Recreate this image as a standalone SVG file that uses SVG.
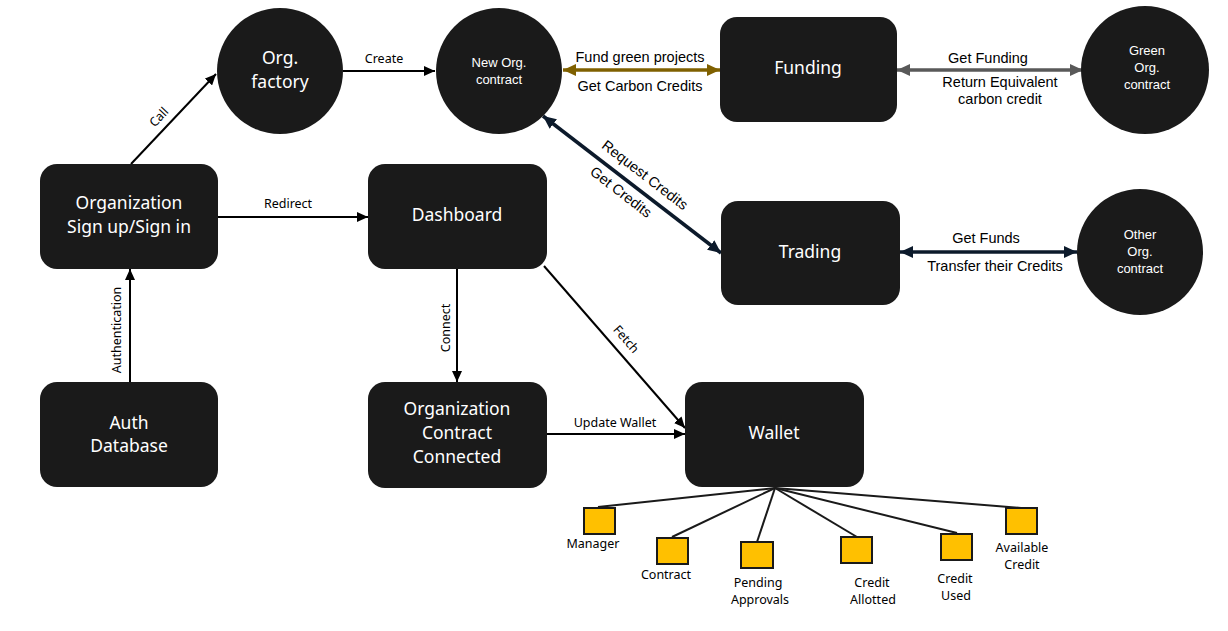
<svg xmlns="http://www.w3.org/2000/svg" width="1228" height="631" viewBox="0 0 1228 631">
<style>
.node{fill:#1a1a1a}
.nt{fill:#ffffff;font-family:"Noto Sans",sans-serif;font-size:17.5px;text-anchor:middle}
.ct{fill:#ffffff;font-family:"Liberation Sans",Arial,sans-serif;font-size:13px;text-anchor:middle}
.el{fill:#000;font-family:"Noto Sans",sans-serif;font-size:12.5px;text-anchor:middle}
.al{fill:#000;font-family:"Liberation Sans",Arial,sans-serif;font-size:14.5px;text-anchor:middle}
.edge{stroke:#000;stroke-width:2;fill:none}
.leaf{fill:#ffc000;stroke:#1a1a1a;stroke-width:2}
.lbl{fill:#000;font-family:"Noto Sans",sans-serif;font-size:12.5px;text-anchor:middle}
</style>
<defs>
<marker id="ab" markerUnits="userSpaceOnUse" markerWidth="12" markerHeight="10" refX="11" refY="5" orient="auto-start-reverse"><path d="M0,0 L11,5 L0,10 z" fill="#000"/></marker>
<marker id="abr" markerUnits="userSpaceOnUse" markerWidth="14" markerHeight="12" refX="13" refY="6" orient="auto-start-reverse"><path d="M0,0 L13,6 L0,12 z" fill="#7f6000"/></marker>
<marker id="agr" markerUnits="userSpaceOnUse" markerWidth="14" markerHeight="12" refX="13" refY="6" orient="auto-start-reverse"><path d="M0,0 L13,6 L0,12 z" fill="#595959"/></marker>
<marker id="anv" markerUnits="userSpaceOnUse" markerWidth="14" markerHeight="12" refX="13" refY="6" orient="auto-start-reverse"><path d="M0,0 L13,6 L0,12 z" fill="#0c1a2b"/></marker>
</defs>
<g id="connectors">
<line class="edge" x1="131" y1="164" x2="216" y2="74" marker-end="url(#ab)"/>
<line class="edge" x1="343" y1="71" x2="435" y2="71" marker-end="url(#ab)"/>
<line class="edge" x1="218" y1="217" x2="368" y2="217" marker-end="url(#ab)"/>
<line class="edge" x1="130" y1="382" x2="130" y2="269" marker-end="url(#ab)"/>
<line class="edge" x1="457" y1="269" x2="457" y2="382" marker-end="url(#ab)"/>
<line class="edge" x1="544" y1="266" x2="685" y2="428" marker-end="url(#ab)"/>
<line class="edge" x1="547" y1="434" x2="685" y2="434" marker-end="url(#ab)"/>
<line x1="563" y1="70" x2="720" y2="70" stroke="#7f6000" stroke-width="3.5" marker-start="url(#abr)" marker-end="url(#abr)"/>
<line x1="897" y1="70" x2="1083" y2="70" stroke="#595959" stroke-width="3.5" marker-start="url(#agr)" marker-end="url(#agr)"/>
<line x1="543" y1="116" x2="721" y2="253" stroke="#0c1a2b" stroke-width="3.5" marker-start="url(#anv)" marker-end="url(#anv)"/>
<line x1="900" y1="252" x2="1077" y2="252" stroke="#0c1a2b" stroke-width="3.5" marker-start="url(#anv)" marker-end="url(#anv)"/>
<g stroke="#1a1a1a" stroke-width="2">
<line x1="775" y1="488" x2="598" y2="507"/>
<line x1="775" y1="488" x2="672" y2="537"/>
<line x1="775" y1="488" x2="757" y2="542"/>
<line x1="775" y1="488" x2="857" y2="537"/>
<line x1="775" y1="488" x2="957" y2="533"/>
<line x1="775" y1="488" x2="1021" y2="508"/>
</g>
<text class="el" transform="translate(162,120) rotate(-46.6)">Call</text>
<text class="el" x="384" y="63">Create</text>
<text class="el" x="288" y="208">Redirect</text>
<text class="el" transform="translate(121,330) rotate(-90)">Authentication</text>
<text class="el" transform="translate(450,328) rotate(-90)">Connect</text>
<text class="el" transform="translate(623,342) rotate(49)">Fetch</text>
<text class="el" x="615" y="427">Update Wallet</text>
<text class="al" x="640" y="62">Fund green projects</text>
<text class="al" x="640" y="91">Get Carbon Credits</text>
<text class="al" x="988" y="63">Get Funding</text>
<text class="al" x="1000" y="87">Return Equivalent</text>
<text class="al" x="1000" y="104">carbon credit</text>
<text class="al" transform="translate(642,179) rotate(37.6)">Request Credits</text>
<text class="al" transform="translate(618,196) rotate(37.6)">Get Credits</text>
<text class="al" x="986" y="243">Get Funds</text>
<text class="al" x="995" y="271">Transfer their Credits</text>
</g>
<g id="org-sign">
<rect class="node" x="40" y="164" width="178" height="105" rx="17"/>
<text class="nt" x="129" y="209">Organization</text>
<text class="nt" x="129" y="233">Sign up/Sign in</text>
</g>
<g id="auth-db">
<rect class="node" x="40" y="382" width="178" height="105" rx="17"/>
<text class="nt" x="129" y="429">Auth</text>
<text class="nt" x="129" y="452">Database</text>
</g>
<g id="org-factory">
<circle class="node" cx="280" cy="71" r="63"/>
<text class="nt" x="280" y="64">Org.</text>
<text class="nt" x="280" y="88">factory</text>
</g>
<g id="new-org">
<circle class="node" cx="499" cy="71" r="63"/>
<text class="ct" x="499" y="67">New Org.</text>
<text class="ct" x="499" y="84">contract</text>
</g>
<g id="funding">
<rect class="node" x="720" y="17" width="177" height="105" rx="17"/>
<text class="nt" x="808" y="74">Funding</text>
</g>
<g id="green-org">
<circle class="node" cx="1145" cy="70" r="64"/>
<text class="ct" x="1147" y="55">Green</text>
<text class="ct" x="1147" y="72">Org.</text>
<text class="ct" x="1147" y="89">contract</text>
</g>
<g id="dashboard">
<rect class="node" x="368" y="164" width="179" height="105" rx="17"/>
<text class="nt" x="457" y="221">Dashboard</text>
</g>
<g id="trading">
<rect class="node" x="721" y="201" width="179" height="104" rx="17"/>
<text class="nt" x="810" y="258">Trading</text>
</g>
<g id="other-org">
<circle class="node" cx="1140" cy="252" r="63"/>
<text class="ct" x="1140" y="239">Other</text>
<text class="ct" x="1140" y="256">Org.</text>
<text class="ct" x="1140" y="273">contract</text>
</g>
<g id="org-contract">
<rect class="node" x="368" y="382" width="179" height="106" rx="17"/>
<text class="nt" x="457" y="415">Organization</text>
<text class="nt" x="457" y="439">Contract</text>
<text class="nt" x="457" y="463">Connected</text>
</g>
<g id="wallet">
<rect class="node" x="685" y="382" width="179" height="105" rx="17"/>
<text class="nt" x="774" y="439">Wallet</text>
</g>
<g id="manager">
<rect class="leaf" x="584" y="508" width="31" height="26"/>
<text class="lbl" x="593" y="548">Manager</text>
</g>
<g id="contract">
<rect class="leaf" x="657" y="538" width="31" height="26"/>
<text class="lbl" x="666" y="579">Contract</text>
</g>
<g id="pending">
<rect class="leaf" x="741" y="542" width="32" height="26"/>
<text class="lbl" x="758" y="587">Pending</text>
<text class="lbl" x="760" y="604">Approvals</text>
</g>
<g id="allotted">
<rect class="leaf" x="841" y="537" width="31" height="26"/>
<text class="lbl" x="872" y="587">Credit</text>
<text class="lbl" x="873" y="604">Allotted</text>
</g>
<g id="used">
<rect class="leaf" x="941" y="534" width="31" height="26"/>
<text class="lbl" x="955" y="583">Credit</text>
<text class="lbl" x="956" y="600">Used</text>
</g>
<g id="available">
<rect class="leaf" x="1006" y="508" width="31" height="26"/>
<text class="lbl" x="1022" y="552">Available</text>
<text class="lbl" x="1022" y="569">Credit</text>
</g>
</svg>
